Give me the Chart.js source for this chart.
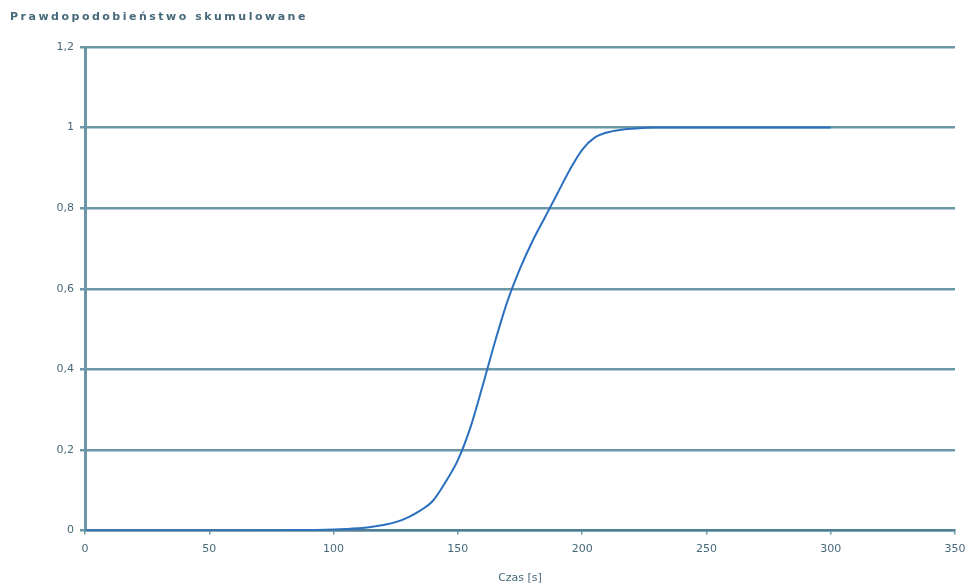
<!DOCTYPE html>
<html>
<head>
<meta charset="utf-8">
<script src="https://cdn.jsdelivr.net/npm/chart.js@4/dist/chart.umd.min.js"></script>
<style>
  html, body { margin: 0; padding: 0; background: #fff; }
  #wrap { width: 970px; height: 587px; position: relative; }
</style>
</head>
<body>
<div id="wrap"><canvas id="chart"></canvas></div>
<script>
// czas [s] i prawdopodobienstwo skumulowane
var czas = [0, 50, 80, 100, 110, 115, 120, 125, 130, 135, 140, 145, 150, 155, 160, 165, 170, 175, 180, 185, 190, 195, 200, 205, 210, 215, 220, 230, 250, 300];
var prawd = [0, 0, 0.001, 0.003, 0.006, 0.009, 0.014, 0.021, 0.033, 0.05, 0.074, 0.12, 0.175, 0.255, 0.36, 0.47, 0.57, 0.65, 0.718, 0.777, 0.836, 0.895, 0.945, 0.975, 0.988, 0.994, 0.997, 1, 1, 1];
var xTicks = [0, 50, 100, 150, 200, 250, 300, 350];
var yTicks = [0, 0.2, 0.4, 0.6, 0.8, 1, 1.2];

var tytul = 'Prawdopodobieństwo skumulowane';
var osX = 'Czas [s]';

var gridColor = '#6b98a7';
var textColor = '#46697a';

var points = czas.map(function (x, i) { return { x: x, y: prawd[i] }; });

// tytul rysowany recznie, bo ma rozstrzelone litery
var titlePlugin = {
    id: 'spacedTitle',
    afterDraw: function (chart) {
        var ctx = chart.ctx;
        ctx.save();
        ctx.font = 'bold 11px "DejaVu Sans"';
        ctx.fillStyle = textColor;
        ctx.textBaseline = 'middle';
        ctx.textAlign = 'left';
        if ('letterSpacing' in ctx) ctx.letterSpacing = '2.5px';
        ctx.fillText(tytul, 10, 17);
        ctx.restore();
    }
};

new Chart(document.getElementById('chart').getContext('2d'), {
    type: 'line',
    data: {
        datasets: [{
            data: points,
            borderColor: '#2b6fbf',
            borderWidth: 2,
            pointRadius: 0,
            cubicInterpolationMode: 'monotone',
            fill: false
        }]
    },
    options: {
        responsive: true,
        maintainAspectRatio: false,
        animation: false,
        layout: { padding: { top: 47, left: 0, right: 0, bottom: 2 } },
        plugins: {
            legend: { display: false },
            tooltip: { enabled: false }
        },
        scales: {
            x: {
                type: 'linear',
                min: 0,
                max: 350,
                afterBuildTicks: function (scale) {
                    scale.ticks = xTicks.map(function (v) { return { value: v }; });
                },
                afterFit: function (scale) { scale.paddingRight = 15; },
                grid: { display: true, drawOnChartArea: false, tickLength: 4, color: gridColor, lineWidth: 1.5 },
                border: { display: true, color: '#4f7f92', width: 2.5 },
                ticks: { color: textColor, font: { family: 'DejaVu Sans', size: 11 }, padding: 8, maxRotation: 0 },
                title: { display: true, text: osX, color: textColor, font: { family: 'DejaVu Sans', size: 11 }, padding: { top: 8, bottom: 0 } }
            },
            y: {
                min: 0,
                max: 1.2,
                afterBuildTicks: function (scale) {
                    scale.ticks = yTicks.map(function (v) { return { value: v }; });
                },
                afterFit: function (scale) { scale.width = 85; },
                grid: { color: gridColor, lineWidth: 2.5, tickLength: 5 },
                border: { display: true, color: '#6b98a7', width: 3 },
                ticks: {
                    color: textColor,
                    font: { family: 'DejaVu Sans', size: 11 },
                    padding: 6,
                    callback: function (v) { return String(Math.round(v * 10) / 10).replace('.', ','); }
                }
            }
        }
    },
    plugins: [titlePlugin]
});
</script>
</body>
</html>
